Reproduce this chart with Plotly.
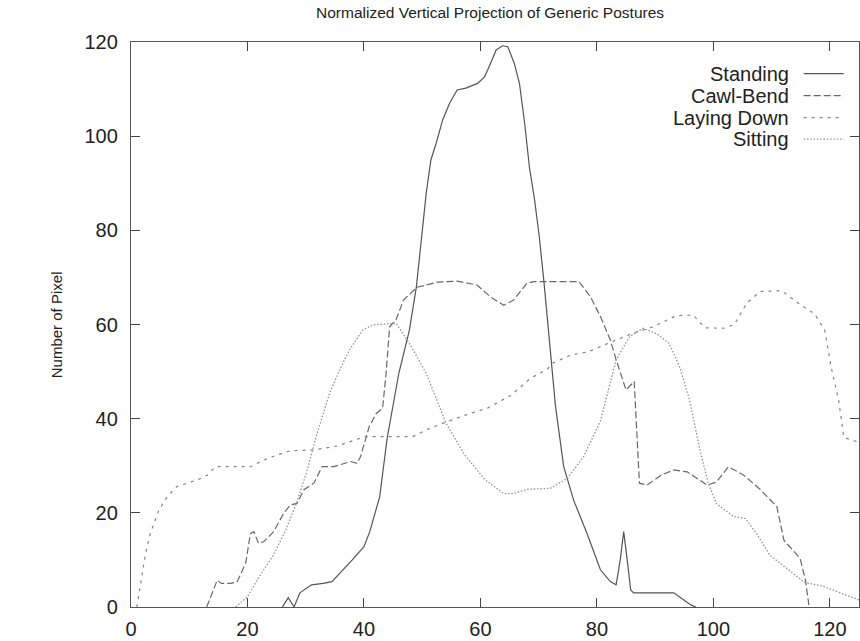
import plotly.graph_objects as go

# ---------------- data ----------------
standing_x = [26, 27, 28, 29, 31, 33, 34.5, 36.5, 38, 40, 41, 42.7, 44, 46, 47.8, 49, 50.7, 51.5,
              52.4, 53.5, 54.7, 56, 57.5, 59.5, 60.7, 61.5, 62.7, 63.8, 64.7, 65.8, 66.7, 67.6,
              68.4, 69.3, 70.1, 70.9, 72.9, 74.3, 76, 78.3, 80.6, 82.3, 83.3, 84, 84.6, 85.2,
              85.8, 86.3, 93.2, 96.2, 97]
standing_y = [0, 2, 0, 3, 4.7, 5, 5.4, 7.9, 10, 12.8, 16, 23.4, 36, 49.7, 58.8, 68, 88, 95,
              98.5, 103.4, 107, 109.8, 110.2, 111.2, 112.6, 114.8, 118.3, 119.2, 119, 115.5, 111.2, 102.7,
              93.5, 86.4, 78.7, 69.1, 42.5, 29.8, 22.7, 15.6, 7.9, 5.4, 4.7, 10, 16, 10,
              3.6, 3, 3, 0.4, 0]

crawl_x = [13, 14.8, 15.5, 17.1, 18.2, 19.7, 20.5, 21.1, 21.9, 22.8, 24.5, 26.2, 27.4, 28.5,
           29.7, 31.4, 32.8, 34.8, 37.7, 38.8, 39.4, 40.9, 42.1, 43.2, 43.8, 44.4, 45.5, 46.8,
           49.1, 52.6, 56, 59.4, 61.7, 64, 65.7, 68, 69.2, 76.9, 78.9, 80.6, 82.3, 83.3, 85,
           86.4, 87.3, 88.6, 91, 93.2, 95.5, 97, 98.9, 100.5, 102.6, 105.2, 108, 110.9, 112.1,
           114.9, 115.8, 116.4]
crawl_y = [0, 5.7, 5, 5, 5.3, 9.3, 15.6, 16, 13.5, 13.9, 16, 19.9, 21.7, 22,
           24.9, 26.3, 29.8, 29.8, 30.9, 30.5, 31.9, 38.3, 41.1, 42.2, 49.6, 59.5, 61, 65.2,
           67.9, 69, 69.2, 68.4, 65.9, 64.1, 65.2, 68.8, 69.1, 69.1, 65.9, 61.7, 56.7, 52.5, 46.1,
           47.9, 26.3, 25.9, 28, 29.1, 28.7, 27.5, 25.9, 26.5, 29.8, 28, 25, 21.3, 14.2,
           10.3, 5.7, 0.4]

laying_x = [1, 2.5, 3.3, 4.8, 6.2, 7.9, 11.4, 13.1, 14.5, 20.5, 22.8, 25.1, 27.4, 30.8, 33.1,
            35.4, 40.2, 48.4, 50.7, 53.5, 57.5, 61.3, 65.3, 68.6, 71.5, 72.4, 75.5, 78.5, 82.7,
            86.1, 89.6, 93.7, 96.5, 98.6, 101.8, 103.6, 105.7, 108, 111.7, 114.6, 117.4, 119.1,
            120.3, 121.5, 122.4, 125]
laying_y = [0, 11.4, 15.6, 20.6, 23.4, 25.6, 27, 28, 29.8, 29.8, 31.2, 32.3, 33.2, 33.3, 33.7,
            34.2, 36.2, 36.2, 37.6, 39, 40.8, 42.3, 45, 48.6, 50.5, 51.8, 53.5, 54.2, 56.4,
            58.1, 59.5, 61.9, 62, 59.3, 59.2, 60, 64.5, 67, 67.2, 64.5, 62.2, 58.8,
            50.5, 44, 36, 35]

sitting_x = [18, 20, 22, 24.3, 26.6, 28.4, 30.1, 31.8, 34.1, 35.8, 37.5, 39.8, 41.5, 45.5, 47.8,
             50.7, 54.1, 57.3, 60.8, 64, 65.7, 68, 72, 74.9, 77.7, 80.6, 83.3, 85.6, 87.9, 90.2,
             92.4, 94.2, 95.9, 97.7, 99.1, 100.5, 103.5, 105.5, 107.4, 109.7, 112.8, 115.7, 118.6,
             122, 125]
sitting_y = [0, 2.2, 6.4, 10.7, 16.4, 22, 28.4, 36.2, 45.4, 50.3, 54.6, 58.8, 59.9, 60.3, 56,
             49.6, 39, 32.3, 27, 24.1, 24.1, 25, 25.2, 27.3, 31.9, 39.5, 52.5, 57.4, 59.2, 58.1,
             56, 51, 44, 33.3, 26.3, 22, 19.2, 18.8, 15.6, 11, 8, 5.2, 4.5,
             2.9, 1.5]

series_names = ["Standing", "Cawl-Bend", "Laying Down", "Sitting"]
x_ticks = [0, 20, 40, 60, 80, 100, 120]
y_ticks = [0, 20, 40, 60, 80, 100, 120]

# ---------------- styles ----------------
styles = [
    dict(color="#555555", dash="solid", width=1.2),
    dict(color="#686868", dash="7px,3px", width=1.2),
    dict(color="#848484", dash="3px,5px", width=1.2),
    dict(color="#929292", dash="1.5px,1.8px", width=1.3),
]
FONT = "Liberation Sans, Arial, Helvetica, sans-serif"

fig = go.Figure()
for name, xs, ys, st in zip(series_names,
                            [standing_x, crawl_x, laying_x, sitting_x],
                            [standing_y, crawl_y, laying_y, sitting_y],
                            styles):
    fig.add_trace(go.Scatter(x=xs, y=ys, mode="lines", name=name, line=st,
                             showlegend=False))

# gnuplot-style legend: right-aligned text with line sample at the right
legend_rows_y = [0.944, 0.905, 0.866, 0.828]
for name, st, yy in zip(series_names, styles, legend_rows_y):
    fig.add_annotation(x=0.906, y=yy, xref="paper", yref="paper", text=name,
                       showarrow=False, xanchor="right", yanchor="middle",
                       font=dict(family=FONT, size=20, color="#222"))
    fig.add_shape(type="line", xref="paper", yref="paper",
                  x0=0.924, x1=0.979, y0=yy, y1=yy, line=st)

axis_common = dict(
    showgrid=False, zeroline=False, showline=True, linecolor="#555", linewidth=1.3,
    mirror="ticks", ticks="inside", ticklen=9, tickwidth=1.3, tickcolor="#444",
    tickfont=dict(family=FONT, size=20, color="#222"), automargin=False,
)

fig.update_xaxes(range=[0, 125], tickvals=x_ticks, ticklabelstandoff=4, **axis_common)
fig.update_yaxes(range=[0, 120], tickvals=y_ticks, ticklabelstandoff=8, **axis_common)

# title and y-axis label as free text
fig.add_annotation(x=0.493, y=1.053, xref="paper", yref="paper",
                   text="Normalized Vertical Projection of Generic Postures",
                   showarrow=False, xanchor="center", yanchor="middle",
                   font=dict(family=FONT, size=15.5, color="#222"))
fig.add_annotation(x=-0.102, y=0.5, xref="paper", yref="paper",
                   text="Number of Pixel", textangle=-90,
                   showarrow=False, xanchor="center", yanchor="middle",
                   font=dict(family=FONT, size=15, color="#222"))

fig.update_layout(
    width=860, height=641,
    margin=dict(l=131, r=1, t=42, b=34, autoexpand=False),
    paper_bgcolor="white", plot_bgcolor="white",
)

fig.write_html("out.html", config={"displayModeBar": False},
               post_script="document.body.style.margin='0px';"
                           "document.body.style.overflow='hidden';")
